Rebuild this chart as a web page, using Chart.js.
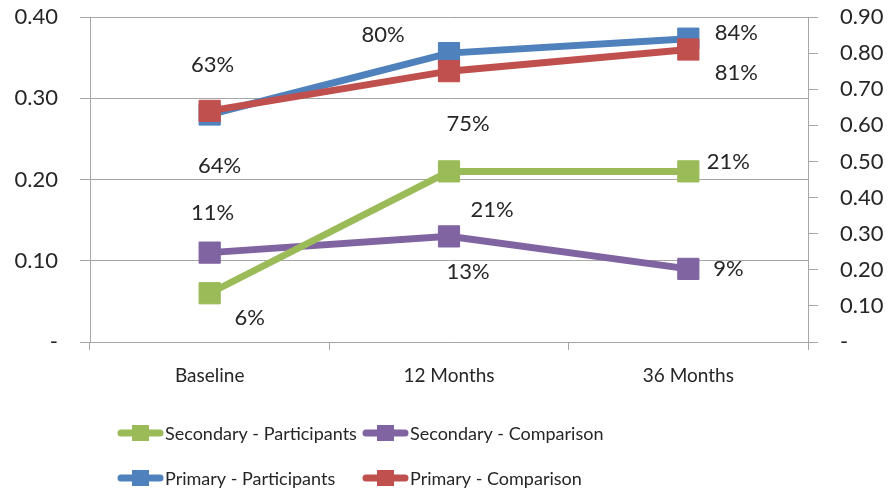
<!DOCTYPE html>
<html>
<head>
<meta charset="utf-8">
<script src="https://cdn.jsdelivr.net/npm/chart.js@4.4.1/dist/chart.umd.min.js"></script>
<style>
    html, body { margin: 0; padding: 0; background: #fff; }
    #wrap { width: 890px; height: 497px; }
</style>
</head>
<body>
<div id="wrap"><canvas id="chart" width="890" height="497"></canvas></div>
<script>
// Data
const categories = ['Baseline', '12 Months', '36 Months'];
const secondaryParticipants = [0.06, 0.21, 0.21];
const secondaryComparison = [0.11, 0.13, 0.09];
const primaryParticipants = [0.63, 0.80, 0.84];
const primaryComparison = [0.64, 0.75, 0.81];
const seriesNames = ['Secondary - Participants', 'Secondary - Comparison', 'Primary - Participants', 'Primary - Comparison'];
const leftTicks = [0, 0.1, 0.2, 0.3, 0.4];
const rightTicks = [0, 0.1, 0.2, 0.3, 0.4, 0.5, 0.6, 0.7, 0.8, 0.9];

const GREEN = '#9bbb59', PURPLE = '#8064a2', BLUE = '#4f81bd', RED = '#c0504d';
const TEXT = '#262626';
const GRID = '#a6a6a6';
const FONT = 'Lato, "Liberation Sans", sans-serif';

const fmtTick = v => (Math.abs(v) < 1e-9 ? '-' : v.toFixed(2));
const fmtPct = v => Math.round(v * 100) + '%';

function series(label, data, color, axis, order, offsets) {
    return {
        label, data, yAxisID: axis, order,
        borderColor: color, backgroundColor: color,
        borderWidth: 7,
        pointStyle: 'rect', pointRadius: 15, pointHoverRadius: 15,
        pointBorderWidth: 1, pointBorderColor: color, pointBackgroundColor: color,
        tension: 0,
        labelOffsets: offsets // where each value label sits relative to its point
    };
}

// value labels at hand-placed offsets, like the reference
const valueLabels = {
    id: 'valueLabels',
    afterDatasetsDraw(chart) {
        const ctx = chart.ctx;
        ctx.save();
        ctx.font = '22px ' + FONT;
        ctx.fillStyle = TEXT;
        ctx.textAlign = 'center';
        ctx.textBaseline = 'middle';
        chart.data.datasets.forEach((ds, i) => {
            chart.getDatasetMeta(i).data.forEach((pt, j) => {
                const off = ds.labelOffsets[j];
                ctx.fillText(fmtPct(ds.data[j]), pt.x + off[0], pt.y + off[1]);
            });
        });
        ctx.restore();
    }
};

// two-column legend laid out like the Excel one
const gridLegend = {
    id: 'gridLegend',
    afterDraw(chart) {
        const ctx = chart.ctx;
        const cols = [118, 363];
        const rows = [433, 478];
        ctx.save();
        ctx.font = '18px ' + FONT;
        ctx.textBaseline = 'middle';
        chart.data.datasets.forEach((ds, i) => {
            const x = cols[i % 2], y = rows[Math.floor(i / 2)];
            ctx.strokeStyle = ds.borderColor;
            ctx.lineWidth = 7;
            ctx.lineCap = 'round';
            ctx.beginPath();
            ctx.moveTo(x + 3, y);
            ctx.lineTo(x + 42, y);
            ctx.stroke();
            ctx.fillStyle = ds.borderColor;
            ctx.fillRect(x + 14, y - 8, 17, 16);
            ctx.fillStyle = TEXT;
            ctx.fillText(ds.label, x + 47, y + 1);
        });
        ctx.restore();
    }
};

// keep the plot box where the reference has it (no extra room for tick labels)
function fixVertical(width) {
    return scale => {
        scale.width = width;
        scale.paddingTop = 0;
        scale.paddingBottom = 0;
    };
}

new Chart(document.getElementById('chart'), {
    type: 'line',
    data: {
        labels: categories,
        datasets: [
            series(seriesNames[0], secondaryParticipants, GREEN, 'yLeft', 2, [[40, 25], [43, 39], [40, -9]]),
            series(seriesNames[1], secondaryComparison, PURPLE, 'yLeft', 3, [[3, -40], [19, 36], [40, 0]]),
            series(seriesNames[2], primaryParticipants, BLUE, 'yRight', 1, [[3, -50], [-66, -18], [48, -6]]),
            series(seriesNames[3], primaryComparison, RED, 'yRight', 0, [[10, 55], [19, 53], [48, 23]])
        ]
    },
    options: {
        responsive: false,
        animation: false,
        events: [],
        layout: { padding: { top: 17, bottom: 0, left: 0, right: 0 } },
        plugins: {
            legend: { display: false },
            tooltip: { enabled: false }
        },
        scales: {
            x: {
                offset: true,
                grid: { offset: true, drawOnChartArea: false, drawTicks: true, tickLength: 8, color: GRID },
                border: { display: true, color: GRID },
                ticks: { color: TEXT, font: { family: FONT, size: 19 }, padding: 14 },
                afterFit(scale) { scale.height = 155; }
            },
            yLeft: {
                position: 'left',
                min: 0, max: 0.4,
                afterBuildTicks(scale) { scale.ticks = leftTicks.map(v => ({ value: v })); },
                grid: { color: GRID, tickLength: 10, lineWidth: 1 },
                border: { display: true, color: GRID },
                ticks: { color: TEXT, font: { family: FONT, size: 22 }, padding: 22, callback: fmtTick },
                afterFit: fixVertical(90)
            },
            yRight: {
                position: 'right',
                min: 0, max: 0.9,
                afterBuildTicks(scale) { scale.ticks = rightTicks.map(v => ({ value: v })); },
                grid: { drawOnChartArea: false, color: GRID, tickLength: 10 },
                border: { display: true, color: GRID },
                ticks: { color: TEXT, font: { family: FONT, size: 22 }, padding: 22, callback: fmtTick },
                afterFit: fixVertical(82)
            }
        }
    },
    plugins: [valueLabels, gridLegend]
});
</script>
</body>
</html>
